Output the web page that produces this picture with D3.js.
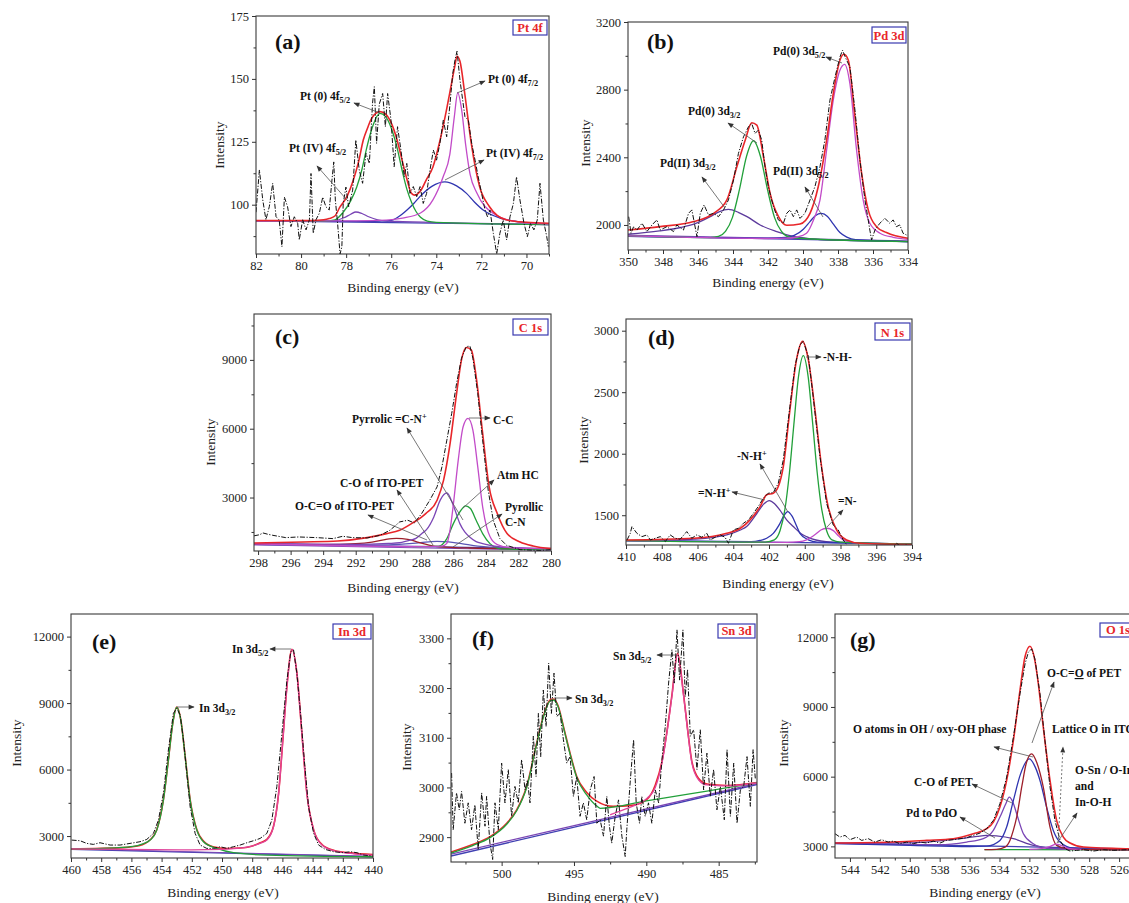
<!DOCTYPE html>
<html><head><meta charset="utf-8">
<script src="https://cdnjs.cloudflare.com/ajax/libs/d3/7.8.5/d3.min.js"></script>
<style>body{margin:0;background:#fff}</style>
</head><body>
<script>
// ================= DATA =================
// ---- (a) Pt 4f ----
const aXTicks=[82,80,78,76,74,72,70], aXMinor=[81,79,77,75,73,71,69];
const aYTicks=[100,125,150,175], aYMinor=[87.5,112.5,137.5,162.5];
const aBg=[[82,93.6],[69,92.1]];
const aPt4_52=[[82,93.6],[79,93.5],[78.5,93.7],[78.1,94.8],[77.8,96.2],[77.57,97.1],[77.3,96.5],[77,95.2],[76.6,94],[76.2,93.5],[75.5,93.3],[69,92.1]];
const aPt4_72=[[82,93.6],[77,93.4],[76.5,93.5],[76,93.8],[75.55,96],[75.3,97.9],[75,100.5],[74.73,103.2],[74.2,107.3],[73.62,109.1],[73.1,107.5],[72.66,104.5],[72.3,101],[71.92,97.9],[71.18,94.7],[70.4,93.3],[69.7,92.7],[69,92.4]];
const aPt0_52=[[82,93.6],[79,93.5],[78.5,94],[78.13,97],[77.8,101.5],[77.53,107],[77.3,114],[77.09,122.5],[76.9,129],[76.79,132],[76.5,136.3],[76.25,135],[76,130.5],[75.75,123],[75.5,113],[75.3,106],[75.1,101],[74.9,97.3],[74.7,95],[74.4,93.5],[74,93],[69,92.1]];
const aPt0_72=[[82,93.5],[78,93.6],[76.5,93.8],[75.5,94.7],[74.7,96.7],[74.15,101.9],[73.7,111],[73.4,120],[73.2,135],[73.05,144.5],[72.88,138],[72.7,124],[72.5,112],[72.2,104.6],[71.5,96.7],[70.4,93.2],[69,92.3]];
const aEnv=[[82,93.7],[79.5,93.7],[79,94],[78.75,94.5],[78.5,95.5],[78.28,99],[77.95,103.5],[77.68,109.8],[77.45,117],[77.24,125.7],[77.05,130.5],[76.87,134.3],[76.5,137],[76.25,136],[76,132.5],[75.75,126],[75.5,117],[75.3,110],[75.1,104.5],[74.95,103.8],[74.7,105.5],[74.45,109.8],[74.15,115],[73.85,125],[73.55,137.6],[73.35,147],[73.18,155],[73.08,159],[72.95,157],[72.74,144.3],[72.45,124.5],[72.08,107.2],[71.64,99.2],[70.9,94],[70,93],[69,92.6]];
const aRaw=[[82,97],[81.85,113.8],[81.7,101.9],[81.56,94],[81.41,99.2],[81.26,108.5],[81.11,95.2],[80.97,93.9],[80.85,83.3],[80.74,103],[80.6,99.2],[80.45,91.3],[80.3,95.2],[80.15,92.6],[80.08,86],[79.93,94],[79.78,90],[79.63,94],[79.56,112.4],[79.46,88.6],[79.34,94],[79.19,96.6],[79.04,103],[78.9,99.2],[78.75,97.9],[78.63,109.8],[78.55,117],[78.48,101.9],[78.38,92.6],[78.27,80.4],[78.19,83.3],[78.13,100.5],[78.01,107],[77.89,99.2],[77.71,105.8],[77.57,125.7],[77.42,113.8],[77.27,108.5],[77.12,120.4],[76.97,116.4],[76.83,140.3],[76.75,146.9],[76.65,124.4],[76.53,140],[76.38,144.2],[76.26,131],[76.16,144.2],[76.01,133.6],[75.87,115.1],[75.72,131],[75.57,121.7],[75.42,111.1],[75.31,116.4],[75.17,104.5],[75.02,107.2],[74.87,103.2],[74.72,107.2],[74.58,100.5],[74.43,104.5],[74.28,113.8],[74.13,121.7],[73.99,117.7],[73.84,124.4],[73.69,133.6],[73.54,127],[73.39,140.3],[73.27,152.2],[73.17,157.5],[73.08,161],[72.95,149.5],[72.73,135],[72.58,133.6],[72.43,124.4],[72.28,117.7],[72.14,111],[71.99,104.5],[71.84,97.9],[71.73,95.2],[71.62,97.9],[71.47,88.6],[71.32,80.4],[71.18,88.6],[71.03,93.9],[70.88,86],[70.73,95.2],[70.58,100.5],[70.44,111.1],[70.29,101.9],[70.11,92.6],[69.96,87.3],[69.82,92.6],[69.67,90],[69.52,93.9],[69.4,108.5],[69.25,93.9],[69.1,87.3],[69.03,83.3]];

// ---- (b) Pd 3d ----
const bXTicks=[350,348,346,344,342,340,338,336,334], bXMinor=[349,347,345,343,341,339,337,335];
const bYTicks=[2000,2400,2800,3200], bYMinor=[2200,2600,3000];
const bBg=[[350,1935],[334,1902]];
const bBg2=[[350,1940],[334,1906]];
const bPd0_32=[[350,1935],[345.3,1925],[344.83,1932],[344.43,1962],[344.03,2045],[343.63,2210],[343.23,2405],[342.83,2498],[342.43,2405],[342.03,2210],[341.63,2045],[341.23,1962],[340.83,1930],[340,1920],[334,1902]];
const bPd0_52=[[350,1935],[342,1920],[341,1922],[340.3,1930],[339.8,1951],[339.4,2030],[339.03,2147],[338.65,2443],[338.27,2738],[337.89,2915],[337.62,2950],[337.32,2836],[336.94,2443],[336.56,2147],[336.18,2010],[335.6,1951],[334.85,1927],[334,1915]];
const bPd2_32=[[350,1945],[348.2,1965],[347,1985],[346.2,2006],[345.3,2049],[344.8,2078],[344.26,2092],[343.7,2075],[343.2,2049],[342.45,2000],[341.5,1961],[340.55,1932],[339.5,1918],[338,1910],[334,1902]];
const bPd2_52=[[350,1933],[342,1922],[341,1926],[340.5,1938],[339.98,1975],[339.6,2020],[339.3,2055],[338.94,2068],[338.6,2050],[338.3,2010],[337.89,1955],[337.5,1928],[337,1913],[334,1902]];
const bEnv=[[350,1970],[348.16,1990],[346.25,2020],[345.1,2069],[344.35,2148],[343.78,2344],[343.3,2502],[342.93,2604],[342.64,2590],[342.26,2403],[341.88,2187],[341.4,2049],[340.93,1998],[340.17,2006],[339.6,2069],[339.13,2226],[338.65,2502],[338.27,2777],[337.89,2974],[337.66,3009],[337.41,2974],[337.03,2639],[336.65,2305],[336.27,2088],[335.8,1990],[335.23,1955],[334,1921]];
const bRaw=[[349.96,2049],[349.83,1951],[349.68,1990],[349.49,1970],[349.2,2010],[348.92,1961],[348.63,2000],[348.35,2030],[348.16,1970],[347.78,1990],[347.4,1961],[347.21,2000],[346.83,1970],[346.54,2069],[346.35,2089],[346.06,1931],[345.87,2069],[345.65,2118],[345.4,2059],[345.11,2069],[344.83,2049],[344.54,2089],[344.26,2148],[343.97,2266],[343.69,2423],[343.4,2521],[343.12,2580],[342.93,2600],[342.74,2541],[342.55,2561],[342.36,2502],[342.17,2344],[341.98,2226],[341.69,2108],[341.41,2030],[341.12,2010],[340.93,2069],[340.74,2089],[340.55,2049],[340.36,2089],[340.17,2039],[339.89,2069],[339.6,2148],[339.32,2226],[339.03,2344],[338.75,2502],[338.46,2738],[338.17,2875],[337.89,2993],[337.74,3033],[337.55,2984],[337.32,2934],[337.03,2679],[336.75,2384],[336.46,2148],[336.18,1970],[336.08,1911],[335.89,1970],[335.61,2010],[335.32,2039],[335.04,2010],[334.85,2030],[334.66,1990],[334.47,2000],[334.28,1951],[334.09,1941]];

// ---- (c) C 1s ----
const cXTicks=[298,296,294,292,290,288,286,284,282,280], cXMinor=[297,295,293,291,289,287,285,283,281];
const cYTicks=[3000,6000,9000], cYMinor=[1500,4500,7500,10500];
const cBg1=[[298.25,990],[280,760]];
const cBg2=[[298.25,935],[280,705]];
const cCC=[[298.25,985],[287.5,860],[286.7,880],[286.4,1000],[286.2,1600],[286.0,2700],[285.7,4630],[285.4,6087],[285.1,6451],[284.8,5941],[284.5,4340],[284.2,2592],[283.95,1700],[283.75,1300],[283.3,950],[282.5,820],[280,760]];
const cPyr=[[298.25,990],[292,960],[290,1000],[289.3,1030],[288.6,1150],[288.3,1220],[287.9,1450],[287.65,1600],[287.2,2155],[286.8,2900],[286.4,3200],[286.0,2650],[285.6,1864],[285.3,1500],[285.0,1282],[284.6,1080],[284.2,990],[283.1,845],[280,780]];
const cAtm=[[288.5,860],[286.9,880],[286.4,1210],[286.0,1864],[285.6,2374],[285.25,2640],[284.95,2520],[284.6,2010],[284.2,1428],[283.75,990],[283.3,800],[282.8,760],[280,740]];
const cOCO=[[298.25,975],[294,950],[292,990],[291,1060],[290.2,1170],[289.5,1220],[288.8,1180],[288.2,1060],[287.5,930],[286.8,850],[285,800],[280,760]];
const cCO=[[298.25,955],[293,920],[290,940],[288.5,1000],[287.5,1070],[287,1093],[286.3,1070],[285.5,990],[284.5,880],[283,800],[280,760]];
const cEnv=[[298.25,1020],[295.2,1064],[293.1,1107],[291.3,1253],[290.1,1428],[289.3,1573],[288.5,1893],[287.7,2301],[287.0,2884],[286.6,3757],[286.2,5359],[285.8,7543],[285.5,9000],[285.2,9537],[284.9,9435],[284.6,8270],[284.2,5796],[283.8,3466],[283.3,2301],[282.7,1428],[281.9,1064],[281.1,889],[280,772]];
const cRaw=[[298.25,1330],[297.9,1380],[297.7,1457],[297.4,1400],[297.1,1355],[296.3,1253],[295.5,1282],[294.4,1253],[293.4,1210],[292.8,1311],[292.2,1253],[291.3,1240],[290.5,1355],[289.9,1573],[289.3,1937],[288.8,2010],[288.4,1893],[287.95,2301],[287.45,2884],[287.0,3466],[286.7,4340],[286.4,5504],[286.1,6669],[285.8,7980],[285.5,9072],[285.2,9581],[284.98,9600],[284.8,9072],[284.5,7543],[284.2,5504],[283.86,3320],[283.55,2010],[283.14,1210],[282.73,918],[281.9,729],[281.1,700],[280.6,690],[280,729]];

// ---- (d) N 1s ----
const dXTicks=[410,408,406,404,402,400,398,396,394], dXMinor=[409,407,405,403,401,399,397,395];
const dYTicks=[1500,2000,2500,3000], dYMinor=[1750,2250,2750];
const dBg=[[410,1294],[394,1267]];
const dNH=[[410,1294],[402.2,1282],[401.7,1300],[401.38,1376],[401.11,1547],[400.86,1841],[400.61,2236],[400.35,2626],[400.08,2797],[399.81,2626],[399.55,2236],[399.3,1841],[399.05,1547],[398.78,1376],[398.48,1300],[398,1282],[394,1267]];
const dNHp1=[[410,1294],[407,1300],[406.2,1305],[404.36,1340],[403.6,1380],[403.25,1408],[402.7,1510],[402.3,1590],[401.98,1619],[401.7,1595],[401.4,1543],[401,1460],[400.64,1408],[400.2,1350],[399.9,1326],[398.8,1286],[394,1267]];
const dNHp2=[[410,1294],[403,1285],[402.5,1295],[402.13,1313],[401.76,1353],[401.4,1430],[401.15,1500],[400.96,1530],[400.7,1490],[400.45,1410],[400.27,1353],[399.8,1300],[399.3,1282],[394,1267]];
const dN=[[410,1294],[401,1280],[400.3,1285],[399.9,1300],[399.4,1345],[399.1,1380],[398.78,1394],[398.4,1375],[398.1,1330],[397.85,1300],[397.3,1278],[396,1270],[394,1267]];
const dEnv=[[410,1299],[406.2,1313],[404.36,1353],[403.6,1394],[403.06,1462],[402.5,1570],[402.13,1666],[401.76,1679],[401.48,1733],[401.2,1896],[400.83,2357],[400.46,2764],[400.12,2913],[399.8,2764],[399.43,2357],[399.06,1896],[398.69,1570],[398.22,1381],[397.66,1299],[396.9,1272],[394,1262]];
const dRaw=[[409.94,1299],[409.76,1353],[409.67,1408],[409.39,1353],[409.11,1326],[408.83,1340],[408.64,1299],[408.36,1313],[408.08,1326],[407.8,1286],[407.53,1340],[407.25,1313],[406.97,1305],[406.6,1367],[406.32,1313],[406.04,1340],[405.76,1321],[405.48,1353],[405.29,1299],[405.01,1321],[404.73,1340],[404.46,1321],[404.27,1272],[403.99,1381],[403.71,1394],[403.43,1435],[403.15,1462],[402.87,1516],[402.6,1571],[402.32,1638],[402.04,1679],[401.76,1684],[401.48,1760],[401.2,1950],[400.83,2384],[400.55,2710],[400.27,2886],[400.08,2913],[399.8,2791],[399.53,2466],[399.15,1977],[398.78,1598],[398.41,1421],[398.13,1381],[397.85,1299],[397.57,1245],[397.29,1231],[397.01,1258],[396.73,1231],[396.36,1250],[395.99,1231],[395.62,1245],[395.25,1218],[394.87,1272],[394.6,1245],[394.32,1258],[394.04,1231]];

// ---- (e) In 3d ----
const eXTicks=[460,458,456,454,452,450,448,446,444,442,440], eXMinor=[459,457,455,453,451,449,447,445,443,441];
const eYTicks=[3000,6000,9000,12000], eYMinor=[4500,7500,10500];
const eBg=[[460,2400],[440,2070]];
const eBg2=[[460,2425],[440,2085]];
const e32=[[460,2420],[457,2470],[455.87,2530],[455.3,2640],[454.76,2819],[454.32,3271],[453.88,4625],[453.55,6431],[453.26,8087],[453.0,8809],[452.73,8237],[452.44,6582],[452.11,4625],[451.67,3271],[451.23,2744],[450.34,2443],[449.24,2248],[447.03,2142],[440,2067]];
const e52=[[460,2420],[452,2380],[450,2400],[449,2440],[448.2,2520],[447.47,2669],[447.03,2819],[446.59,3421],[446.25,4926],[445.97,7334],[445.7,9742],[445.37,11428],[445.04,10344],[444.71,7635],[444.38,4926],[443.93,3271],[443.38,2594],[442.61,2338],[441.5,2217],[440,2142]];
const eEnv=[[460,2420],[456.5,2480],[455.5,2560],[454.76,2830],[454.32,3280],[453.88,4640],[453.55,6440],[453.26,8100],[453.0,8820],[452.73,8250],[452.44,6600],[452.11,4650],[451.67,3300],[451.23,2780],[450.6,2520],[449.7,2440],[448.8,2460],[448.1,2530],[447.47,2700],[447.03,2850],[446.59,3440],[446.25,4940],[445.97,7340],[445.7,9750],[445.37,11430],[445.04,10350],[444.71,7640],[444.38,4930],[443.93,3280],[443.38,2620],[442.61,2360],[441.5,2240],[440,2160]];
const eRaw=[[459.96,2819],[459.4,2789],[458.96,2669],[458.52,2624],[458.08,2699],[457.41,2594],[456.75,2594],[456.09,2669],[455.43,2744],[454.98,2850],[454.54,3120],[454.21,3722],[453.88,4926],[453.55,6883],[453.22,8538],[453.0,8764],[452.77,8463],[452.55,7334],[452.33,5829],[452.11,4324],[451.78,3120],[451.45,2594],[451.01,2443],[450.56,2443],[450.12,2518],[449.68,2443],[449.24,2518],[448.8,2594],[448.35,2699],[447.91,2789],[447.47,2895],[447.03,3120],[446.7,3722],[446.37,5227],[446.03,7635],[445.7,10043],[445.44,11322],[445.26,11398],[445.04,10344],[444.82,8689],[444.55,6431],[444.27,4324],[443.93,3120],[443.6,2594],[443.16,2398],[442.61,2293],[441.95,2248],[441.5,2293],[441.06,2248],[440.62,2142],[440,2097]];

// ---- (f) Sn 3d ----
const fXTicks=[500,495,490,485], fXMinor=[502.5,497.5,492.5,487.5,482.5];
const fYTicks=[2900,3000,3100,3200,3300], fYMinor=[2950,3050,3150,3250];
const fBgBlue=[[503.5,2862],[482.35,3006]];
const fBgPurple=[[503.5,2866],[482.35,3008]];
const f32=[[503.5,2868],[502,2883],[500.8,2899],[499.65,2926],[498.96,2953],[498.27,3000],[497.58,3087],[497.12,3141],[496.65,3174],[496.42,3176],[496.08,3161],[495.73,3121],[495.27,3067],[494.81,3020],[494.12,2985],[493.4,2962],[493.19,2958],[490,2973],[487,2987],[484.5,2999],[482.35,3009]];
const f52=[[492.5,2945],[491.5,2956],[490.88,2963],[489.96,2978],[489.38,3000],[488.92,3049],[488.58,3109],[488.23,3183],[487.84,3267],[487.42,3183],[487.15,3116],[486.85,3049],[486.38,3015],[485.81,3005],[484.42,3003],[482.35,3009]];
const fEnv=[[503.5,2870],[502,2885],[500.8,2901],[499.65,2928],[498.96,2955],[498.27,3002],[497.58,3089],[497.12,3143],[496.65,3176],[496.42,3178],[496.08,3163],[495.73,3123],[495.27,3069],[494.81,3022],[494.12,2990],[493.4,2972],[492.3,2962],[491,2964],[490,2975],[489.38,3005],[488.92,3052],[488.58,3112],[488.23,3186],[487.84,3270],[487.42,3186],[487.15,3118],[486.85,3052],[486.38,3018],[485.81,3007],[484.42,3004],[482.35,3010]];
const fRaw=[[503.46,3029],[503.35,2915],[503.12,2989],[502.93,2955],[502.77,2992],[502.54,2928],[502.31,2969],[502.08,2915],[501.85,2965],[501.62,2875],[501.38,2989],[501.15,2922],[501.04,2982],[500.81,2888],[500.62,2855],[500.46,2969],[500.23,2915],[500,3049],[499.77,2969],[499.54,3036],[499.31,2942],[499.08,3002],[498.85,2969],[498.62,3056],[498.38,2995],[498.22,3015],[498.04,2969],[497.81,3103],[497.62,3022],[497.46,3149],[497.3,3062],[497.12,3196],[496.93,3123],[496.75,3250],[496.56,3149],[496.38,3230],[496.19,3143],[495.96,3149],[495.73,3096],[495.5,3049],[495.27,3062],[495.04,2982],[494.81,3022],[494.58,2942],[494.35,2969],[494.12,2935],[493.88,2995],[493.61,3022],[493.42,2928],[493.19,2935],[492.96,2902],[492.73,2982],[492.55,2922],[492.39,2888],[492.15,2942],[491.92,2975],[491.69,2902],[491.46,2861],[491.35,2915],[491.12,3009],[490.88,3096],[490.7,2969],[490.47,2928],[490.31,2982],[490.08,2942],[489.85,2969],[489.62,2928],[489.38,2995],[489.15,2969],[488.92,3056],[488.69,3123],[488.46,3210],[488.23,3277],[488.07,3210],[487.88,3317],[487.7,3216],[487.47,3317],[487.31,3183],[487.15,3237],[486.96,3103],[486.73,3116],[486.5,3036],[486.27,3116],[486.04,2995],[485.81,3069],[485.58,2982],[485.35,3036],[485.12,2955],[484.88,3002],[484.61,2935],[484.42,3076],[484.19,2942],[483.96,3049],[483.73,2928],[483.5,2995],[483.27,3002],[483.04,3062],[482.81,2962],[482.62,3076],[482.46,3015]];

// ---- (g) O 1s ----
const gXTicks=[544,542,540,538,536,534,532,530,528,526,524], gXMinor=[543,541,539,537,535,533,531,529,527,525];
const gYTicks=[3000,6000,9000,12000], gYMinor=[4500,7500,10500];
const gBg=[[545,3143],[524,2880]];
const gBgGreen=[[535,2862],[524,2850]];
const gOCO=[[535,2860],[534.2,2875],[533.63,2971],[533.3,3258],[533.07,3700],[532.85,4261],[532.5,5600],[532.2,6600],[531.85,6984],[531.5,6600],[531.07,5551],[530.62,3831],[530.18,3043],[529.5,2900],[528,2860],[524,2850]];
const gOH=[[545,3120],[540,3040],[536,2990],[534.86,3010],[533.97,3258],[533.52,3831],[533.07,4978],[532.6,6100],[532.0,6769],[531.6,6400],[531.29,5837],[530.85,4691],[530.4,3688],[529.95,3186],[529.06,2920],[527,2870],[524,2860]];
const gCO=[[545,3130],[538,3070],[536.2,3186],[535.08,3330],[534.41,3688],[533.97,4261],[533.6,4800],[533.34,5121],[533.1,4900],[532.85,4404],[532.4,3545],[531.74,3115],[530.85,2920],[529,2870],[524,2860]];
const gPdO=[[545,3140],[540,3150],[538.87,3186],[536.64,3330],[535.5,3430],[534.86,3473],[534.2,3450],[533.07,3330],[531.74,3043],[529.95,2900],[524,2870]];
const gOSn=[[532,2870],[531.2,2900],[530.6,3000],[530.2,3100],[529.8,3020],[529.3,2900],[528.5,2870]];
const gEnv=[[545,3143],[541.1,3186],[538.87,3258],[537.09,3330],[535.75,3545],[534.86,3760],[534.41,4046],[533.97,4691],[533.52,5837],[533.07,7557],[532.63,9706],[532.3,11139],[531.96,11612],[531.63,10996],[531.4,9993],[531.07,8130],[530.62,5837],[530.18,4118],[529.73,3401],[529.28,3143],[528.39,2971],[525.5,2900],[524,2890]];
const gRaw=[[545,3545],[544.67,3401],[544.33,3473],[544,3287],[543.55,3401],[543.22,3258],[542.77,3330],[542.33,3186],[541.88,3287],[541.44,3186],[541.1,3229],[540.66,3115],[540.21,3186],[539.76,3115],[539.32,3186],[538.87,3143],[538.43,3229],[537.98,3143],[537.53,3258],[537.09,3287],[536.64,3330],[536.2,3373],[535.75,3473],[535.3,3573],[534.86,3760],[534.41,4118],[533.97,4834],[533.52,5981],[533.07,7700],[532.63,9563],[532.29,10853],[532.07,11354],[531.85,11498],[531.63,11068],[531.29,9563],[530.96,7557],[530.62,5551],[530.29,4118],[529.95,3258],[529.62,2900],[529.28,2799],[528.84,2828],[528.39,2857],[527.72,2799],[527.05,2857],[526.39,2828],[525.5,2857],[524.6,2830]];

// ================= STYLE / LAYOUT =================
const FONT="'Liberation Serif','Times New Roman',Times,serif";
const COL={red:"#e8262a",green:"#22a03a",mag:"#c24bc8",pink:"#e0449a",blue:"#2f35b0",bgblue:"#4040b2",purple:"#7a45b5",violet:"#5c3a9c",brown:"#9e1f2a",slate:"#5a55b5",black:"#111"};

const svg=d3.select("body").append("svg").attr("width",1129).attr("height",903).style("display","block");
const defs=svg.append("defs");
defs.append("marker").attr("id","arr").attr("viewBox","0 0 10 10").attr("refX",9).attr("refY",5)
  .attr("markerUnits","userSpaceOnUse").attr("markerWidth",7).attr("markerHeight",6).attr("orient","auto")
  .append("path").attr("d","M0,1L10,5L0,9Z").attr("fill","#333");

function rich(g,x,y,str,size,fill,weight){
  const t=g.append("text").attr("x",x).attr("y",y).attr("font-family",FONT).attr("font-weight",weight||"bold")
    .attr("font-size",size).attr("fill",fill||"#111");
  const parts=str.split(/(_\{[^}]*\}|\^\{[^}]*\}|~\{[^}]*\})/).filter(s=>s.length);
  let shift=0;
  parts.forEach(p=>{
    let txt=p,target=0,fs=null,ul=false;
    if(p.startsWith("_{")){txt=p.slice(2,-1);target=3;fs=size*0.72;}
    else if(p.startsWith("^{")){txt=p.slice(2,-1);target=-4;fs=size*0.72;}
    else if(p.startsWith("~{")){txt=p.slice(2,-1);ul=true;}
    const ts=t.append("tspan").attr("dy",target-shift).text(txt);
    shift=target;
    if(fs) ts.attr("font-size",fs);
    if(ul) ts.attr("text-decoration","underline");
  });
  return t;
}

function drawPanel(p){
  const x=d3.scaleLinear().domain(p.xDom).range([p.l,p.r]);
  const y=d3.scaleLinear().domain(p.yDom).range([p.b,p.t]);
  const g=svg.append("g");
  const cid="clip-"+p.id;
  defs.append("clipPath").attr("id",cid).append("rect").attr("x",p.l).attr("y",p.t).attr("width",p.r-p.l).attr("height",p.b-p.t);
  const plot=g.append("g").attr("clip-path",`url(#${cid})`);
  p.series.forEach(s=>{
    const pts=s.data.slice().sort((a,b)=>x(a[0])-x(b[0]));
    const line=d3.line().x(d=>x(d[0])).y(d=>y(d[1])).curve(s.raw?d3.curveLinear:d3.curveMonotoneX);
    plot.append("path").attr("d",line(pts)).attr("fill","none").attr("stroke",s.color)
      .attr("stroke-width",s.w||1.3).attr("stroke-linejoin","round")
      .attr("stroke-dasharray",s.raw?"5,1.6,1.2,1.6":null);
  });
  g.append("rect").attr("x",p.l).attr("y",p.t).attr("width",p.r-p.l).attr("height",p.b-p.t)
    .attr("fill","none").attr("stroke","#3a3a3a").attr("stroke-width",1.1);
  const styleAxis=sel=>{sel.select(".domain").remove();sel.selectAll("line").attr("stroke","#333");
    sel.selectAll("text").attr("font-family",FONT).attr("font-size",12.5).attr("fill","#222");};
  g.append("g").attr("transform",`translate(0,${p.b})`)
    .call(d3.axisBottom(x).tickValues(p.xTicks).tickSize(4).tickPadding(3).tickFormat(d3.format("d"))).call(styleAxis);
  g.append("g").attr("transform",`translate(0,${p.b})`)
    .call(d3.axisBottom(x).tickValues(p.xMinor).tickSize(2.5).tickFormat("")).call(styleAxis);
  g.append("g").attr("transform",`translate(${p.l},0)`)
    .call(d3.axisLeft(y).tickValues(p.yTicks).tickSize(4).tickPadding(3).tickFormat(d3.format("d"))).call(styleAxis);
  g.append("g").attr("transform",`translate(${p.l},0)`)
    .call(d3.axisLeft(y).tickValues(p.yMinor).tickSize(2.5).tickFormat("")).call(styleAxis);
  g.append("text").attr("transform",`translate(${p.yt[0]},${p.yt[1]}) rotate(-90)`).attr("text-anchor","middle")
    .attr("font-family",FONT).attr("font-size",13.5).attr("fill","#222").text("Intensity");
  g.append("text").attr("x",p.xt[0]).attr("y",p.xt[1]).attr("text-anchor","middle")
    .attr("font-family",FONT).attr("font-size",13.5).attr("fill","#222").text("Binding energy (eV)");
  g.append("text").attr("x",p.letter[0]).attr("y",p.letter[1]).attr("font-family",FONT).attr("font-weight","bold")
    .attr("font-size",22).attr("fill","#111").text(p.letter[2]);
  const bx=p.box;
  g.append("rect").attr("x",bx[0]).attr("y",bx[1]).attr("width",bx[2]).attr("height",bx[3])
    .attr("fill","#fff").attr("stroke","#3a3ab0").attr("stroke-width",1.2);
  g.append("text").attr("x",bx[0]+bx[2]/2).attr("y",bx[1]+bx[3]-3.5).attr("text-anchor","middle")
    .attr("font-family",FONT).attr("font-weight","bold").attr("font-size",12.5).attr("fill","#e8262a").text(bx[4]);
  (p.ann||[]).forEach(a=>{
    if(a.line){
      g.append("line").attr("x1",a.line[0]).attr("y1",a.line[1]).attr("x2",a.line[2]).attr("y2",a.line[3])
        .attr("stroke","#555").attr("stroke-width",0.8).attr("stroke-dasharray",a.dash?"2,2":null)
        .attr("marker-end","url(#arr)");
    }
    (a.texts||[]).forEach(t=>rich(g,t[0],t[1],t[2],11.5));
  });
}

const panels=[
 {id:"a",l:256,t:16,r:549,b:254,xDom:[82,69],yDom:[80.4,175],xTicks:aXTicks,xMinor:aXMinor,yTicks:aYTicks,yMinor:aYMinor,
  yt:[224,145],xt:[403,292],letter:[275,49,"(a)"],box:[513,20,34,15,"Pt 4f"],
  series:[{data:aBg,color:COL.bgblue},{data:aPt4_52,color:COL.purple},{data:aPt4_72,color:COL.blue},{data:aPt0_52,color:COL.green},
    {data:aPt0_72,color:COL.mag},{data:aEnv,color:COL.red,w:1.6},{data:aRaw,color:COL.black,raw:true,w:1}],
  ann:[{texts:[[300,100,"Pt (0) 4f_{5/2}"]],line:[380,113,354,103]},
       {texts:[[488,83,"Pt (0) 4f_{7/2}"]],line:[457,93,485,81]},
       {texts:[[289,152,"Pt (IV) 4f_{5/2}"]],line:[347,200,317,166]},
       {texts:[[486,157,"Pt (IV) 4f_{7/2}"]],line:[445,180,484,160]}]},
 {id:"b",l:628,t:22,r:908,b:250,xDom:[350,334],yDom:[1852,3200],xTicks:bXTicks,xMinor:bXMinor,yTicks:bYTicks,yMinor:bYMinor,
  yt:[590,143],xt:[768,287],letter:[647,49,"(b)"],box:[872,27,34,16,"Pd 3d"],
  series:[{data:bBg,color:COL.bgblue},{data:bBg2,color:COL.purple,w:1},{data:bPd2_32,color:COL.violet},{data:bPd2_52,color:COL.blue},
    {data:bPd0_32,color:COL.green},{data:bPd0_52,color:COL.mag},{data:bEnv,color:COL.red,w:1.6},{data:bRaw,color:COL.black,raw:true,w:1}],
  ann:[{texts:[[773,55,"Pd(0) 3d_{5/2}"]],line:[842,63,826,57]},
       {texts:[[688,115,"Pd(0) 3d_{3/2}"]],line:[757,143,728,123]},
       {texts:[[660,167,"Pd(II) 3d_{3/2}"]],line:[725,208,702,177]},
       {texts:[[773,175,"Pd(II) 3d_{5/2}"]],line:[823,217,805,187]}]},
 {id:"c",l:254,t:314,r:551,b:551,xDom:[298.25,280],yDom:[670,11000],xTicks:cXTicks,xMinor:cXMinor,yTicks:cYTicks,yMinor:cYMinor,
  yt:[215,442],xt:[403,592],letter:[275,344,"(c)"],box:[513,319,35,16,"C 1s"],
  series:[{data:cBg1,color:COL.bgblue},{data:cBg2,color:COL.purple,w:1},{data:cCO,color:COL.slate},{data:cOCO,color:COL.brown},
    {data:cAtm,color:COL.green},{data:cPyr,color:COL.purple},{data:cCC,color:COL.mag},{data:cEnv,color:COL.red,w:1.6},
    {data:cRaw,color:COL.black,raw:true,w:1}],
  ann:[{texts:[[493,424,"C-C"]],line:[469,418,490,418]},
       {texts:[[352,423,"Pyrrolic =C-N^{+}"]],line:[463,520,407,428]},
       {texts:[[497,479,"Atm HC"]],line:[463,508,494,480]},
       {texts:[[340,487,"C-O of ITO-PET"]],line:[433,545,397,490]},
       {texts:[[295,510,"O-C=O of ITO-PET"]],line:[427,540,368,515]},
       {texts:[[505,511,"Pyrollic"],[505,526,"C-N"]],line:[453,547,502,514]}]},
 {id:"d",l:626,t:319,r:912,b:545,xDom:[410,394],yDom:[1258,3095],xTicks:dXTicks,xMinor:dXMinor,yTicks:dYTicks,yMinor:dYMinor,
  yt:[588,440],xt:[778,588],letter:[648,345,"(d)"],box:[875,323,35,17,"N 1s"],
  series:[{data:dBg,color:COL.bgblue},{data:dNHp1,color:COL.violet},{data:dNHp2,color:COL.blue},{data:dN,color:COL.mag},
    {data:dNH,color:COL.green},{data:dEnv,color:COL.red,w:1.6},{data:dRaw,color:COL.black,raw:true,w:1}],
  ann:[{texts:[[823,361,"-N-H-"]],line:[806,357,821,357]},
       {texts:[[737,460,"-N-H^{+}"]],line:[788,512,760,464]},
       {texts:[[698,497,"=N-H^{+}"]],line:[765,500,732,492]},
       {texts:[[838,505,"=N-"]],line:[827,527,843,510]}]},
 {id:"e",l:71,t:614,r:373,b:858,xDom:[460,440],yDom:[2010,13020],xTicks:eXTicks,xMinor:eXMinor,yTicks:eYTicks,yMinor:eYMinor,
  yt:[21,743],xt:[223,897],letter:[92,649,"(e)"],box:[333,624,38,15,"In 3d"],
  series:[{data:eBg,color:COL.bgblue},{data:eBg2,color:COL.purple,w:1},{data:eEnv,color:COL.red,w:1.6},
    {data:e32,color:COL.green},{data:e52,color:COL.pink},{data:eRaw,color:COL.black,raw:true,w:1}],
  ann:[{texts:[[232,653,"In 3d_{5/2}"]],line:[291,649,270,649]},
       {texts:[[199,712,"In 3d_{3/2}"]],line:[177,707,194,707]}]},
 {id:"f",l:451,t:614,r:757,b:862,xDom:[503.5,482.35],yDom:[2850,3349],xTicks:fXTicks,xMinor:fXMinor,yTicks:fYTicks,yMinor:fYMinor,
  yt:[411,747],xt:[603,901],letter:[472,646,"(f)"],box:[718,624,37,14,"Sn 3d"],
  series:[{data:fBgBlue,color:COL.bgblue},{data:fBgPurple,color:COL.purple},{data:fEnv,color:COL.red,w:1.6},
    {data:f32,color:COL.green},{data:f52,color:COL.pink},{data:fRaw,color:COL.black,raw:true,w:1}],
  ann:[{texts:[[613,660,"Sn 3d_{5/2}"]],line:[677,655,657,655]},
       {texts:[[575,703,"Sn 3d_{3/2}"]],line:[554,698,572,698]}]},
 {id:"g",l:835,t:614,r:1149,b:858,xDom:[545,524],yDom:[2500,13000],xTicks:gXTicks,xMinor:gXMinor,yTicks:gYTicks,yMinor:gYMinor,
  yt:[788,743],xt:[985,897],letter:[850,647,"(g)"],box:[1100,623,36,14,"O 1s"],
  series:[{data:gBgGreen,color:COL.green},{data:gBg,color:COL.bgblue},{data:gPdO,color:COL.violet},{data:gCO,color:COL.purple},
    {data:gOH,color:COL.blue},{data:gOCO,color:COL.brown},{data:gOSn,color:COL.mag},{data:gEnv,color:COL.red,w:1.6},
    {data:gRaw,color:COL.black,raw:true,w:1}],
  ann:[{texts:[[1047,677,"O-C=~{O} of PET"]],line:[1032,743,1054,682]},
       {texts:[[853,733,"O atoms in OH / oxy-OH phase"]],line:[1033,757,994,747]},
       {texts:[[1052,733,"Lattice O in ITO"]],line:[1058,847,1063,747],dash:true},
       {texts:[[1075,774,"O-Sn / O-In"],[1075,790,"and"],[1075,806,"In-O-H"]],line:[1057,843,1077,813]},
       {texts:[[914,786,"C-O of PET"]],line:[1012,803,972,784]},
       {texts:[[906,817,"Pd to PdO"]],line:[995,838,960,817]}]}
];
panels.forEach(drawPanel);
</script>
</body></html>
